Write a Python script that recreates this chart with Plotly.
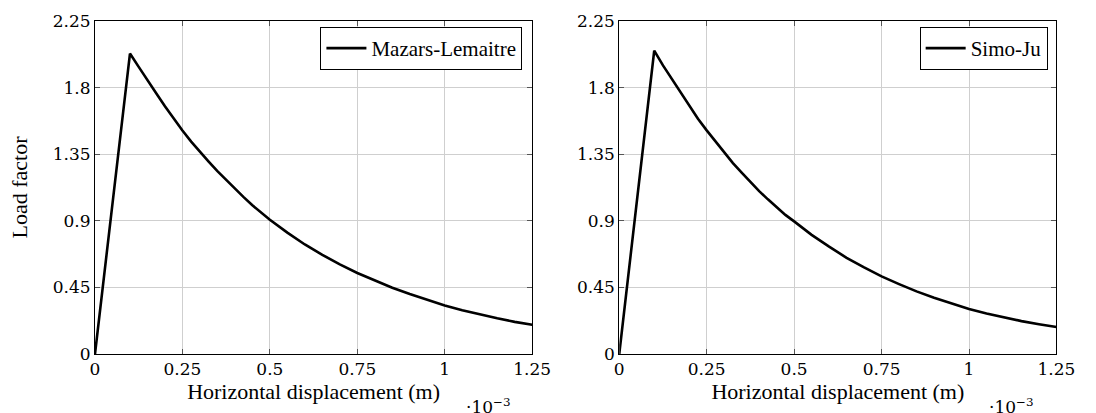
import plotly.graph_objects as go

# Data (horizontal displacement in units of 1e-3 m)
disp = [0, 0.1, 0.125, 0.15, 0.175, 0.2, 0.225, 0.25, 0.275, 0.3, 0.325, 0.35, 0.375,
        0.4, 0.425, 0.45, 0.475, 0.5, 0.55, 0.6, 0.65, 0.7, 0.75, 0.8, 0.85, 0.9,
        0.95, 1.0, 1.05, 1.1, 1.15, 1.2, 1.25]
mazars_lemaitre = [0, 2.03, 1.94, 1.855, 1.762, 1.674, 1.59, 1.51, 1.435, 1.365, 1.30,
                   1.235, 1.175, 1.115, 1.06, 1.005, 0.955, 0.907, 0.82, 0.74, 0.67,
                   0.605, 0.547, 0.495, 0.448, 0.405, 0.365, 0.328, 0.296, 0.267, 0.241,
                   0.217, 0.198]
simo_ju = [0, 2.05, 1.95, 1.86, 1.765, 1.675, 1.59, 1.511, 1.435, 1.36, 1.29, 1.225,
           1.16, 1.10, 1.045, 0.99, 0.94, 0.896, 0.805, 0.725, 0.65, 0.585, 0.524,
           0.472, 0.423, 0.38, 0.34, 0.304, 0.274, 0.247, 0.222, 0.201, 0.182]

x_ticks = [0, 0.25, 0.5, 0.75, 1, 1.25]
x_ticktext = ["0", "0.25", "0.5", "0.75", "1", "1.25"]
y_ticks = [0, 0.45, 0.9, 1.35, 1.8, 2.25]
y_ticktext = ["0", "0.45", "0.9", "1.35", "1.8", "2.25"]

W, H = 1096, 413
TICKFONT = "DejaVu Serif"
TITLEFONT = "Liberation Serif"
LEGFONT = "Liberation Serif"
TOP, BOTTOM = 21, 354
PH = BOTTOM - TOP

fig = go.Figure()
fig.add_trace(go.Scatter(x=disp, y=mazars_lemaitre, mode="lines", name="Mazars-Lemaitre",
                         line=dict(color="black", width=2.6), xaxis="x", yaxis="y",
                         legend="legend"))
fig.add_trace(go.Scatter(x=disp, y=simo_ju, mode="lines", name="Simo-Ju",
                         line=dict(color="black", width=2.6), xaxis="x2", yaxis="y2",
                         legend="legend2"))


def xax(domain, anchor):
    return dict(domain=domain, anchor=anchor, range=[0, 1.25], tickvals=x_ticks,
                ticktext=x_ticktext, showgrid=True, gridcolor="#cfcfcf", gridwidth=1,
                showline=True, linecolor="black", linewidth=1, mirror="ticks",
                ticks="inside", ticklen=5, tickcolor="#555555", zeroline=False,
                tickfont=dict(family=TICKFONT, size=17, color="black"),
                title=dict(text="Horizontal displacement (m)", standoff=5,
                           font=dict(family=TITLEFONT, size=22, color="black")))


def yax(anchor, title):
    d = dict(anchor=anchor, domain=[0, 1], range=[0, 2.25], tickvals=y_ticks,
             ticktext=y_ticktext, showgrid=True, gridcolor="#cfcfcf", gridwidth=1,
             showline=True, linecolor="black", linewidth=1, mirror="ticks",
             ticks="inside", ticklen=5, tickcolor="#555555", zeroline=False,
             tickfont=dict(family=TICKFONT, size=17, color="black"))
    if title:
        d["title"] = dict(text=title, standoff=19,
                          font=dict(family=TITLEFONT, size=22, color="black"))
    return d


legend_y = (BOTTOM - 27) / PH
fig.update_layout(
    width=W, height=H,
    margin=dict(l=0, r=0, t=TOP, b=H - BOTTOM),
    paper_bgcolor="white", plot_bgcolor="white",
    xaxis=xax([92 / W, 539 / W], "y"),
    yaxis=yax("x", "Load factor"),
    xaxis2=xax([628 / W, 1075 / W], "y2"),
    yaxis2=yax("x2", None),
    legend=dict(x=529 / W, y=legend_y, xanchor="right", yanchor="top",
                bgcolor="white", bordercolor="black", borderwidth=1, itemwidth=40,
                font=dict(family=LEGFONT, size=21, color="black")),
    legend2=dict(x=1066 / W, y=legend_y, xanchor="right", yanchor="top",
                 bgcolor="white", bordercolor="black", borderwidth=1, itemwidth=40,
                 font=dict(family=LEGFONT, size=21, color="black")),
    showlegend=True,
    annotations=[
        dict(text="·10<sup>−3</sup>", x=494 / W, y=(BOTTOM - 393) / PH, xref="paper",
             yref="paper", showarrow=False, xanchor="center", yanchor="top",
             font=dict(family=TICKFONT, size=17, color="black")),
        dict(text="·10<sup>−3</sup>", x=1029 / W, y=(BOTTOM - 393) / PH, xref="paper",
             yref="paper", showarrow=False, xanchor="center", yanchor="top",
             font=dict(family=TICKFONT, size=17, color="black")),
    ],
)

fig.write_html("out.html", config={"displayModeBar": False},
               post_script="document.body.style.margin='0';"
                           "document.body.style.overflow='hidden';")
